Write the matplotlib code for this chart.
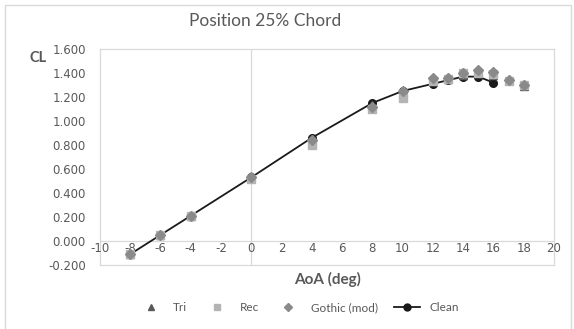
import matplotlib.pyplot as plt
from matplotlib.lines import Line2D

plt.rcParams['font.family'] = ['Lato', 'DejaVu Sans']

# angle of attack (deg)
aoa_clean = [-8, -6, -4, 0, 4, 8, 10, 12, 13, 14, 15, 16]
cl_clean = [-0.11, 0.05, 0.21, 0.53, 0.86, 1.15, 1.25, 1.31, 1.34, 1.37, 1.37, 1.32]

aoa_mod = [-8, -6, -4, 0, 4, 8, 10, 12, 13, 14, 15, 16, 17, 18]
cl_tri = [-0.11, 0.05, 0.21, 0.53, 0.85, 1.13, 1.24, 1.33, 1.35, 1.38, 1.40, 1.38, 1.34, 1.29]
cl_rec = [-0.11, 0.05, 0.21, 0.52, 0.80, 1.10, 1.19, 1.33, 1.35, 1.40, 1.40, 1.39, 1.335, 1.30]
cl_goth = [-0.11, 0.05, 0.21, 0.53, 0.84, 1.12, 1.25, 1.36, 1.36, 1.40, 1.425, 1.41, 1.34, 1.30]

xticks = list(range(-10, 21, 2))
yticks = [-0.2, 0.0, 0.2, 0.4, 0.6, 0.8, 1.0, 1.2, 1.4, 1.6]

GRID = '#d9d9d9'
TXT = '#595959'

fig = plt.figure(figsize=(5.74, 3.29), dpi=100)
ax = fig.add_axes([0.174, 0.1945, 0.791, 0.6565])

# clean line sits underneath the modified-profile markers
ax.plot(aoa_clean, cl_clean, '-', marker='o', ms=5.5, lw=1.3, color='#1a1a1a', zorder=2)
ax.plot(aoa_mod, cl_tri, linestyle='none', marker='^', ms=6, color='#595959', zorder=3)
ax.plot(aoa_mod, cl_rec, linestyle='none', marker='s', ms=6, color='#b4b4b4', zorder=4)
ax.plot(aoa_mod, cl_goth, linestyle='none', marker='D', ms=5, color='#8a8a8a', zorder=5)

ax.axhline(0, color=GRID, lw=0.9, zorder=1)
ax.axvline(0, color=GRID, lw=0.9, zorder=1)

ax.set_xlim(-10, 20)
ax.set_ylim(-0.2, 1.6)
ax.set_xticks(xticks)
ax.set_xticklabels([])
ax.tick_params(axis='x', length=0)
ax.set_yticks(yticks)
ax.set_yticklabels([f'{v:.3f}' for v in yticks], fontsize=8.5, color=TXT, family='DejaVu Sans')
ax.tick_params(axis='y', length=0, pad=10)
for s in ax.spines.values():
    s.set_color(GRID)
    s.set_linewidth(0.9)

for x in xticks:
    ax.text(x, -0.012, str(x), ha='center', va='top', fontsize=8.5, color=TXT, family='DejaVu Sans')

fig.text(0.462, 0.935, 'Position 25% Chord', ha='center', va='center', fontsize=12.5, color=TXT)
fig.text(0.57, 0.152, 'AoA (deg)', ha='center', va='center', fontsize=11, fontweight='bold', color=TXT)
fig.text(0.066, 0.825, 'CL', ha='center', va='center', fontsize=10.5, fontweight='bold', color=TXT)

handles = [
    Line2D([], [], linestyle='none', marker='^', ms=5, color='#595959'),
    Line2D([], [], linestyle='none', marker='s', ms=5, color='#b4b4b4'),
    Line2D([], [], linestyle='none', marker='D', ms=4, color='#8a8a8a'),
    Line2D([], [], linestyle='-', marker='o', ms=5, lw=1.3, color='#1a1a1a'),
]
leg = fig.legend(handles, ['Tri', 'Rec', 'Gothic (mod)', 'Clean'], loc='center',
                 bbox_to_anchor=(0.52, 0.064), ncol=4, frameon=False, fontsize=8.5,
                 handlelength=2.2, columnspacing=1.4, labelcolor=TXT)

fig.patches.append(plt.Rectangle((0.009, -0.1), 0.985, 1.085, transform=fig.transFigure,
                                 fill=False, edgecolor=GRID, lw=1))

fig.savefig('out.png', dpi=100)
